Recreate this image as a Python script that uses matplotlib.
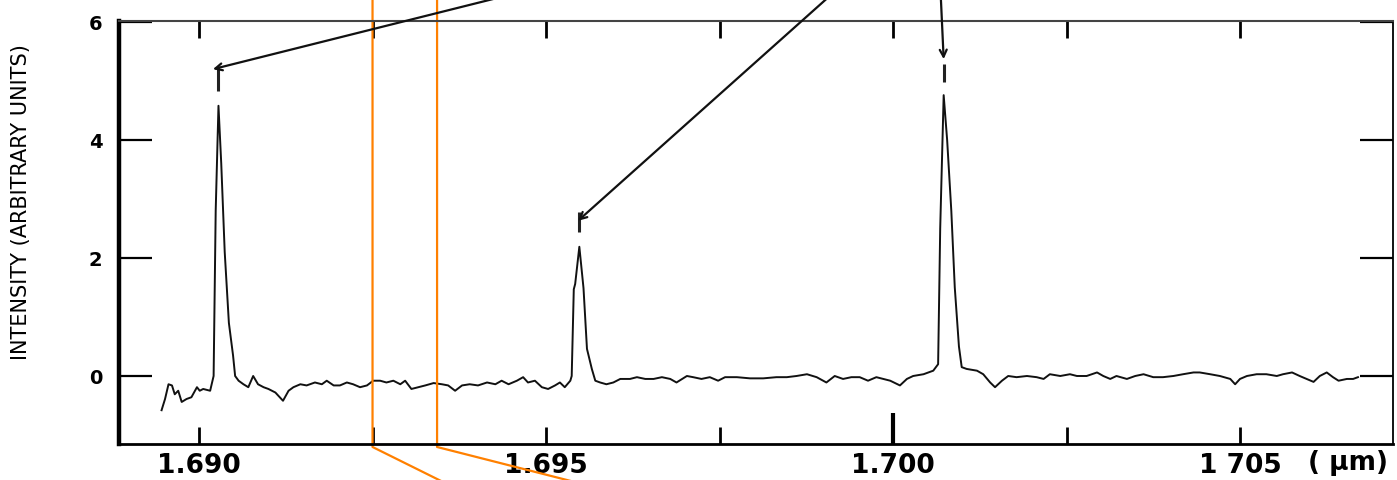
import numpy as np
import matplotlib.pyplot as plt
from matplotlib.transforms import blended_transform_factory

# ── Spectrum trace (wavelength in um, intensity in arbitrary units) ──
wl = [1.68946, 1.68951, 1.68956, 1.68961, 1.68965, 1.68970, 1.68975, 1.68982, 1.68989, 1.68997,
      1.69001, 1.69006, 1.69016, 1.69021, 1.69024, 1.69028, 1.69032, 1.69037, 1.69043, 1.69049,
      1.69052, 1.69057, 1.69064, 1.69071, 1.69078, 1.69085, 1.69093, 1.69100, 1.69110, 1.69121,
      1.69129, 1.69136, 1.69146, 1.69155, 1.69167, 1.69177, 1.69184, 1.69194, 1.69203, 1.69213,
      1.69222, 1.69232, 1.69242, 1.69251, 1.69261, 1.69270, 1.69280, 1.69290, 1.69297, 1.69306,
      1.69316, 1.69326, 1.69338, 1.69350, 1.69359, 1.69369, 1.69379, 1.69390, 1.69402, 1.69415,
      1.69427, 1.69436, 1.69446, 1.69458, 1.69467, 1.69474, 1.69484, 1.69494, 1.69503, 1.69513,
      1.69520, 1.69527, 1.69535, 1.69537, 1.69540, 1.69542, 1.69548, 1.69554, 1.69559, 1.69566,
      1.69571, 1.69578, 1.69587, 1.69597, 1.69607, 1.69621, 1.69631, 1.69643, 1.69655, 1.69667,
      1.69679, 1.69688, 1.69703, 1.69712, 1.69724, 1.69736, 1.69748, 1.69758, 1.69775, 1.69794,
      1.69813, 1.69832, 1.69847, 1.69861, 1.69876, 1.69890, 1.69904, 1.69916, 1.69928, 1.69940,
      1.69952, 1.69964, 1.69976, 1.69986, 1.69996, 1.70010, 1.70020, 1.70029, 1.70044, 1.70058,
      1.70065, 1.70068, 1.70073, 1.70078, 1.70084, 1.70089, 1.70095, 1.70099, 1.70106, 1.70121,
      1.70130, 1.70140, 1.70147, 1.70157, 1.70166, 1.70178, 1.70193, 1.70207, 1.70217, 1.70226,
      1.70241, 1.70255, 1.70265, 1.70279, 1.70294, 1.70303, 1.70313, 1.70322, 1.70337, 1.70349,
      1.70361, 1.70375, 1.70389, 1.70404, 1.70418, 1.70433, 1.70442, 1.70457, 1.70471, 1.70486,
      1.70493, 1.70500, 1.70510, 1.70524, 1.70538, 1.70553, 1.70562, 1.70575, 1.70586, 1.70596,
      1.70606, 1.70615, 1.70625, 1.70634, 1.70642, 1.70654, 1.70663, 1.70670]

intensity = [-0.58, -0.39, -0.14, -0.16, -0.31, -0.25, -0.44, -0.39, -0.36, -0.19,
             -0.25, -0.22, -0.25, 0.00, 2.80, 4.58, 3.60, 2.10, 0.90, 0.35,
             0.00, -0.08, -0.14, -0.19, 0.00, -0.14, -0.19, -0.22, -0.28, -0.42,
             -0.25, -0.19, -0.14, -0.16, -0.11, -0.14, -0.08, -0.16, -0.16, -0.11,
             -0.14, -0.19, -0.16, -0.08, -0.08, -0.11, -0.08, -0.14, -0.08, -0.22,
             -0.19, -0.16, -0.12, -0.14, -0.16, -0.25, -0.16, -0.14, -0.16, -0.11,
             -0.14, -0.08, -0.14, -0.08, -0.02, -0.11, -0.08, -0.19, -0.22, -0.16,
             -0.11, -0.19, -0.08, 0.00, 1.47, 1.56, 2.19, 1.49, 0.46, 0.12,
             -0.08, -0.11, -0.14, -0.11, -0.05, -0.05, -0.02, -0.05, -0.05, -0.02,
             -0.05, -0.11, 0.00, -0.02, -0.05, -0.02, -0.08, -0.02, -0.02, -0.04,
             -0.04, -0.02, -0.02, 0.00, 0.03, -0.02, -0.11, 0.00, -0.05, -0.02,
             -0.02, -0.08, -0.02, -0.05, -0.08, -0.16, -0.05, 0.00, 0.03, 0.09,
             0.20, 2.50, 4.76, 4.00, 2.80, 1.50, 0.50, 0.15, 0.12, 0.09,
             0.03, -0.11, -0.19, -0.08, 0.00, -0.02, 0.00, -0.02, -0.05, 0.03,
             0.00, 0.03, 0.00, 0.00, 0.06, 0.00, -0.05, 0.00, -0.05, 0.00,
             0.03, -0.02, -0.02, 0.00, 0.03, 0.06, 0.06, 0.03, 0.00, -0.05,
             -0.14, -0.05, 0.00, 0.03, 0.03, 0.00, 0.03, 0.06, 0.00, -0.05,
             -0.10, 0.00, 0.06, -0.02, -0.08, -0.05, -0.05, -0.02]

# ticks
x_ticks = [1.6900, 1.6925, 1.6950, 1.6975, 1.7000, 1.7025, 1.7050]
x_labels = ["1.690", "", "1.695", "", "1.700", "", "1 705"]
y_ticks = [0, 2, 4, 6]

# peak markers: line position, marker top / bottom, arrow tail wavelength
peak_wl = [1.69028, 1.69547, 1.70073]
mark_top = [5.25, 2.78, 5.29]
mark_bot = [4.83, 2.44, 4.98]
arrow_tip_wl = [1.69020, 1.69546, 1.70073]
arrow_tip_y = [5.20, 2.63, 5.37]
arrow_tail_wl = [1.69424, 1.69904, 1.70069]

# selected band and its connector ends below the axis
band_wl = [1.69250, 1.69343]
band_end_wl = [1.69352, 1.69542]

fig = plt.figure(figsize=(13.97, 4.81), dpi=100)
ax = fig.add_axes([0.0852, 0.0748, 0.9119, 0.8795])

ax.plot(wl, intensity, color="#111111", lw=1.4)

ax.set_xlim(1.688847, 1.707204)
ax.set_ylim(-1.153, 6.017)

# ── markers and arrows above the peaks ───────────────────────────
for w, top, bot in zip(peak_wl, mark_top, mark_bot):
    ax.vlines(w, bot, top, color="#222222", lw=2.2)
for tw, ty, sw in zip(arrow_tip_wl, arrow_tip_y, arrow_tail_wl):
    ax.annotate("", xy=(tw, ty), xytext=(sw, 6.39), annotation_clip=False,
                arrowprops=dict(arrowstyle="->,head_length=0.5,head_width=0.25",
                                color="#111111", lw=1.6, shrinkA=0, shrinkB=0))

# ── band lines ───────────────────────────────────────────────────
tr = blended_transform_factory(ax.transData, ax.transAxes)
for w, we in zip(band_wl, band_end_wl):
    ax.plot([w, w, we], [1.07, -0.007, -0.09], color="#ff8000", lw=1.6,
            transform=tr, clip_on=False)

# ── axes styling ─────────────────────────────────────────────────
ax.spines["left"].set_linewidth(3.2)
ax.spines["bottom"].set_linewidth(2.0)
ax.spines["top"].set_linewidth(1.5)
ax.spines["top"].set_color("#444444")
ax.spines["right"].set_linewidth(1.3)

ax.set_xticks(x_ticks)
ax.set_xticklabels(x_labels)
ax.set_yticks(y_ticks)
ax.tick_params(axis="x", direction="in", length=12, width=2, pad=6,
               top=True, labelsize=19)
ax.tick_params(axis="y", direction="in", length=24, width=1.6, pad=12,
               right=True, labelsize=14)
for lbl in ax.get_xticklabels() + ax.get_yticklabels():
    lbl.set_fontweight("bold")
ax.xaxis.get_major_ticks()[4].tick1line.set_markersize(22)
ax.xaxis.get_major_ticks()[4].tick1line.set_markeredgewidth(3)

ax.text(0.996, -0.043, "( \u03bcm)", transform=ax.transAxes, ha="right",
        va="center", fontsize=19, fontweight="bold")

ax.set_ylabel("INTENSITY (ARBITRARY UNITS)", fontsize=15)
ax.yaxis.set_label_coords(-0.069, 0.574)

fig.savefig("out.png", dpi=100)
